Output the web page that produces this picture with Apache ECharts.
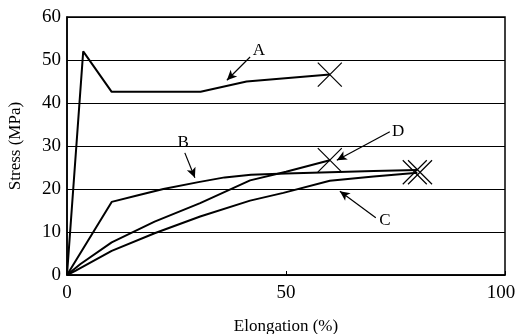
<!DOCTYPE html>
<html><head><meta charset="utf-8">
<script src="https://cdn.jsdelivr.net/npm/echarts@6/dist/echarts.min.js"></script>
<style>html,body{margin:0;padding:0;background:#fff}#c{width:516px;height:334px}</style>
</head><body><div id="c"></div>
<script>
const xA = [0, 3.7, 10.2, 30.5, 41, 60];
const yA = [0, 52, 42.6, 42.6, 45, 46.6];
const xB = [0, 10.2, 16, 22, 30, 36, 42, 50, 60, 70, 80];
const yB = [0, 17, 18.5, 20, 21.6, 22.7, 23.3, 23.6, 23.9, 24.2, 24.4];
const xC = [0, 2, 10.2, 20, 30.4, 41.8, 49.4, 60, 70, 80];
const yC = [0, 1, 5.6, 9.7, 13.6, 17.3, 19.1, 21.9, 22.9, 23.8];
const xD = [0, 3, 10.2, 20, 30.4, 41.8, 50, 60];
const yD = [0, 2.5, 7.6, 12.4, 16.7, 22.0, 24.0, 26.7];
const breakX = [60, 60, 79.4, 80.6];
const breakY = [46.6, 26.7, 23.9, 23.9];
const labelNames = ['A', 'B', 'C', 'D'];
const labelX = [43.8, 26.5, 72.6, 75.6];
const labelY = [52.3, 30.9, 12.6, 33.3];
const arrowFromX = [41.8, 26.9, 70.5, 73.7];
const arrowFromY = [50.7, 28.4, 13.3, 33.3];
const arrowToX = [36.5, 29.2, 62.3, 61.6];
const arrowToY = [45.3, 22.6, 19.5, 26.7];
const xTicks = [0, 50, 100];
const yTicks = [0, 10, 20, 30, 40, 50, 60];

const zip = (xs, ys) => xs.map((x, i) => [x, ys[i]]);
const font = 'Liberation Serif';
const curve = (name, xs, ys) => ({
  name, type: 'line', data: zip(xs, ys), symbol: 'none',
  lineStyle: { color: '#000', width: 2 }, z: 3
});

const chart = echarts.init(document.getElementById('c'));
chart.setOption({
  animation: false,
  grid: { left: 67, right: 11, top: 17, bottom: 59, show: true, borderColor: '#000', borderWidth: 1.5,
    containLabel: false, outerBoundsMode: 'none' },
  xAxis: {
    type: 'value', min: 0, max: 100, interval: 50,
    name: 'Elongation (%)', nameLocation: 'middle', nameGap: 43,
    nameTextStyle: { fontFamily: font, fontSize: 17, color: '#000' },
    axisLine: { show: true, lineStyle: { color: '#000', width: 1.5 } },
    axisTick: { show: true, inside: true, length: 4, lineStyle: { color: '#000' } },
    axisLabel: { fontFamily: font, fontSize: 19, color: '#000', margin: 9,
      formatter: v => !xTicks.includes(v) ? '' : (v === 100 ? '{r|' + v + '}' : String(v)),
      rich: { r: { fontFamily: font, fontSize: 19, color: '#000', padding: [0, 8, 0, 0] } } },
    splitLine: { show: false }
  },
  yAxis: {
    type: 'value', min: 0, max: 60, interval: 10,
    name: 'Stress (MPa)', nameLocation: 'middle', nameGap: 43,
    nameTextStyle: { fontFamily: font, fontSize: 17, color: '#000' },
    axisLine: { show: true, lineStyle: { color: '#000', width: 1.5 } },
    axisTick: { show: false },
    axisLabel: { fontFamily: font, fontSize: 19, color: '#000', margin: 6,
      formatter: v => yTicks.includes(v) ? String(v) : '' },
    splitLine: { show: true, lineStyle: { color: '#000', width: 1 } }
  },
  series: [
    curve('A', xA, yA), curve('B', xB, yB), curve('C', xC, yC), curve('D', xD, yD),
    {
      name: 'break', type: 'scatter', data: zip(breakX, breakY),
      symbol: 'path://M0,0L10,10M10,0L0,10', symbolSize: 24,
      itemStyle: { color: 'rgba(0,0,0,0)', borderColor: '#000', borderWidth: 1.2, opacity: 1 }, z: 4
    },
    {
      name: 'labels', type: 'scatter', symbolSize: 0,
      itemStyle: { opacity: 1 },
      data: labelNames.map((n, i) => ({ value: [labelX[i], labelY[i]], name: n })),
      label: { show: true, position: 'inside', formatter: p => p.name,
        fontFamily: font, fontSize: 17, color: '#000', textBorderWidth: 0 },
      markLine: {
        silent: true, symbol: ['none', 'arrow'], symbolSize: [7, 10],
        lineStyle: { color: '#000', width: 1.2, type: 'solid', opacity: 1 },
        itemStyle: { color: '#000', opacity: 1 },
        label: { show: false },
        data: arrowFromX.map((x, i) => [{ coord: [x, arrowFromY[i]] }, { coord: [arrowToX[i], arrowToY[i]] }])
      }, z: 5
    }
  ]
});
</script></body></html>
